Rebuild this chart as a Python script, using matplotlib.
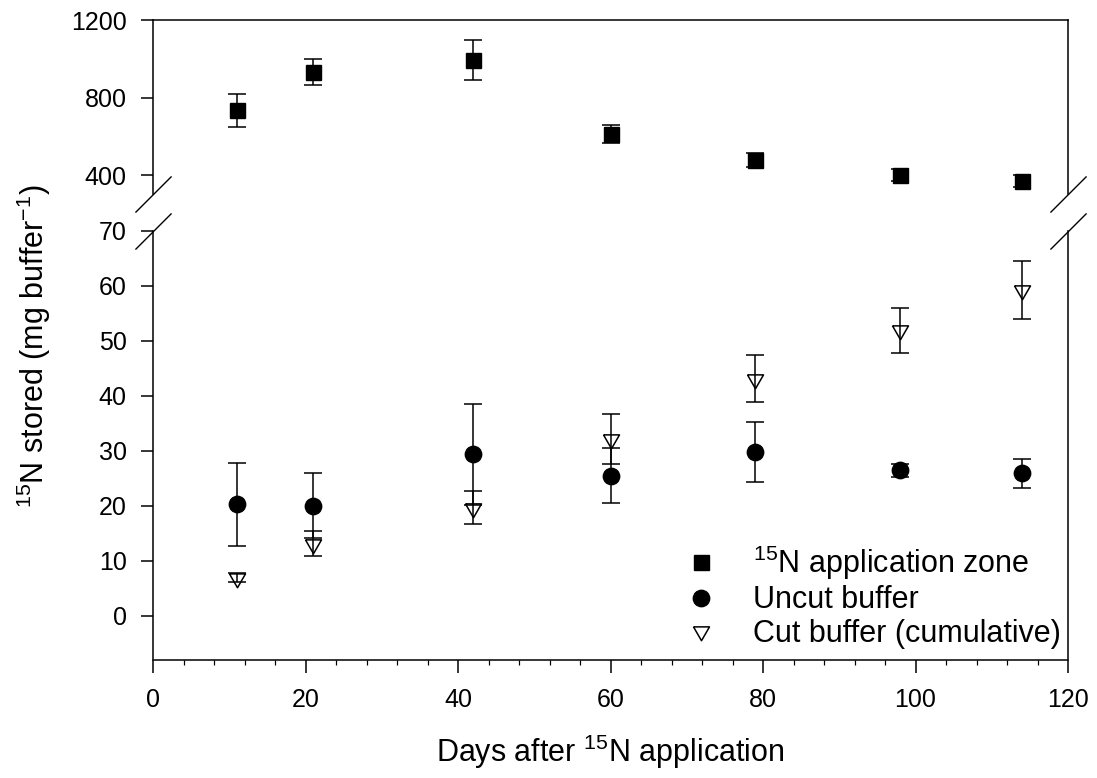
import matplotlib
matplotlib.use('Agg')
import matplotlib.pyplot as plt
from matplotlib.ticker import MultipleLocator, FixedLocator
from matplotlib.lines import Line2D

plt.rcParams['font.family'] = ['Liberation Sans', 'DejaVu Sans']
plt.rcParams['mathtext.fontset'] = 'custom'
plt.rcParams['mathtext.rm'] = 'Liberation Sans'
plt.rcParams['mathtext.it'] = 'Liberation Sans:italic'
plt.rcParams['mathtext.bf'] = 'Liberation Sans:bold'

# ---------------- data ----------------
days = [11, 21, 42, 60, 79, 98, 114]
zone_mean = [735, 933, 993, 612, 478, 400, 369]
zone_err = [85, 67, 105, 46, 35, 32, 30]
uncut_mean = [20.2, 20.0, 29.3, 25.4, 29.7, 26.4, 25.9]
uncut_err = [7.6, 5.9, 9.2, 5.0, 5.5, 1.2, 2.65]
cut_mean = [6.9, 13.1, 19.6, 32.1, 43.1, 51.9, 59.2]
cut_err = [0.8, 2.3, 3.0, 4.6, 4.3, 4.1, 5.2]

x_ticks = [0, 20, 40, 60, 80, 100, 120]
top_yticks = [400, 800, 1200]
bottom_yticks = [0, 10, 20, 30, 40, 50, 60, 70]
labels = ['$^{15}$N application zone', 'Uncut buffer', 'Cut buffer (cumulative)']

# ---------------- figure ----------------
fig = plt.figure(figsize=(10.97, 7.78), dpi=100)
left, width = 153 / 1097, (1068 - 153) / 1097
ax_top = fig.add_axes([left, 1 - 194.4 / 778, width, (194.4 - 20) / 778])
ax_bot = fig.add_axes([left, 1 - 659.5 / 778, width, (659.5 - 230.7) / 778])

lw = 1.1
tick_fs = 18
lab_fs = 22

# triangle marker centred on its centroid
tri = [(-1.0, 0.577), (1.0, 0.577), (0.0, -1.155), (-1.0, 0.577)]

eb_kw = dict(ecolor='k', elinewidth=lw, capsize=6.5, capthick=lw, linestyle='none')
ax_top.errorbar(days, zone_mean, yerr=zone_err, marker='s', ms=10.8,
                mfc='k', mec='k', **eb_kw)
ax_bot.errorbar(days, uncut_mean, yerr=uncut_err, marker='o', ms=11.8,
                mfc='k', mec='k', **eb_kw)
ax_bot.errorbar(days, cut_mean, yerr=cut_err, marker=tri, ms=13.3,
                mfc='none', mec='k', mew=lw, **eb_kw)

# limits
for ax in (ax_top, ax_bot):
    ax.set_xlim(0, 120)
    for s in ax.spines.values():
        s.set_linewidth(lw)
ax_top.set_ylim(300, 1200)
ax_bot.set_ylim(-8, 70)

# top panel styling
ax_top.spines['bottom'].set_visible(False)
ax_top.tick_params(axis='x', which='both', bottom=False, top=False, labelbottom=False)
ax_top.yaxis.set_major_locator(FixedLocator(top_yticks))
ax_top.tick_params(axis='y', which='major', left=True, right=False, direction='out',
                   length=9, width=lw, pad=10, labelsize=tick_fs)

# bottom panel styling
ax_bot.spines['top'].set_visible(False)
ax_bot.set_xticks(x_ticks)
ax_bot.xaxis.set_minor_locator(MultipleLocator(4))
ax_bot.yaxis.set_major_locator(FixedLocator(bottom_yticks))
ax_bot.tick_params(axis='x', which='major', direction='out', length=9, width=lw,
                   pad=11.5, labelsize=tick_fs, top=False)
ax_bot.tick_params(axis='x', which='minor', direction='out', length=3.5, width=lw * 0.8, top=False)
ax_bot.tick_params(axis='y', which='major', left=True, right=False, direction='out',
                   length=9, width=lw, pad=10, labelsize=tick_fs)
ax_bot.tick_params(axis='y', which='minor', left=False, right=False)

# break marks
d_kw = dict(marker=[(-1, -1), (1, 1)], markersize=26, linestyle='none', color='k',
            mec='k', mew=1.0, clip_on=False)
ax_top.plot([0, 1], [0, 0], transform=ax_top.transAxes, **d_kw)
ax_bot.plot([0, 1], [1, 1], transform=ax_bot.transAxes, **d_kw)

# legend
handles = [
    Line2D([], [], marker='s', color='k', ls='none', ms=10.8),
    Line2D([], [], marker='o', color='k', ls='none', ms=11.8),
    Line2D([], [], marker=tri, color='k', mfc='none', mew=lw, ls='none', ms=13.3),
]
ax_bot.legend(handles, labels, loc='lower right', bbox_to_anchor=(1.012, -0.018),
              frameon=False, fontsize=lab_fs, handlelength=1.0, handletextpad=1.2,
              labelspacing=0.12, borderaxespad=0.2)

# axis labels
fig.text(0.031, 1 - 346 / 778, '$^{15}$N stored (mg buffer$^{-1}$)', rotation=90,
         ha='center', va='center', fontsize=lab_fs)
fig.text((153 + 1068) / 2 / 1097, 1 - 762 / 778, 'Days after $^{15}$N application',
         ha='center', va='baseline', fontsize=lab_fs)

fig.savefig('out.png', dpi=100)
